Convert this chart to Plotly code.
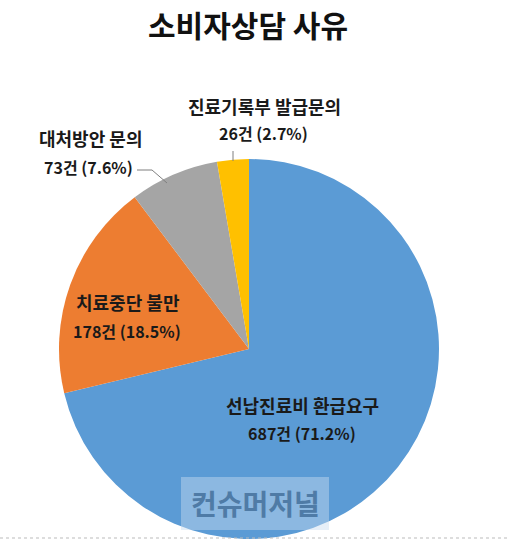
import plotly.graph_objects as go

categories = ["선납진료비 환급요구", "치료중단 불만", "대처방안 문의", "진료기록부 발급문의"]
counts = [687, 178, 73, 26]
percents = [71.2, 18.5, 7.6, 2.7]
colors = ["#5B9BD5", "#ED7D31", "#A5A5A5", "#FFC000"]
title_text = "소비자상담 사유"

W, H = 510, 540
FONT = "Noto Sans CJK KR, Malgun Gothic, sans-serif"

# pie placement in pixels
cx, cy, r = 249, 349, 190

def px(x):
    return x / W

def py(y):
    return 1 - y / H

fig = go.Figure(go.Pie(
    labels=categories,
    values=counts,
    marker=dict(colors=colors, line=dict(width=0)),
    sort=False,
    direction="clockwise",
    rotation=0,
    textinfo="none",
    hoverinfo="label+value+percent",
    showlegend=False,
    domain=dict(x=[px(cx - r), px(cx + r)], y=[py(cy + r), py(cy - r)]),
))

# label positions (pixel centres) for the two text lines of each category
label_pos = [
    ((302, 405), (302, 433)),
    ((128, 302), (127, 331)),
    ((90, 138), (88, 167)),
    ((264, 106), (263, 133)),
]

annotations = []
for cat, n, p, (l1, l2) in zip(categories, counts, percents, label_pos):
    annotations.append(dict(
        x=px(l1[0]), y=py(l1[1]), xref="paper", yref="paper",
        text=f"<b>{cat}</b>", showarrow=False, xanchor="center", yanchor="middle",
        font=dict(family=FONT, size=18, color="#1a1a1a")))
    annotations.append(dict(
        x=px(l2[0]), y=py(l2[1]), xref="paper", yref="paper",
        text=f"<b>{n}건 ({p}%)</b>", showarrow=False, xanchor="center", yanchor="middle",
        font=dict(family=FONT, size=16, color="#1a1a1a")))

annotations.append(dict(
    x=px(248), y=py(24), xref="paper", yref="paper",
    text=f"<b>{title_text}</b>", showarrow=False, xanchor="center", yanchor="middle",
    font=dict(family=FONT, size=30, color="#111111")))

# watermark
annotations.append(dict(
    x=px(255), y=py(503), xref="paper", yref="paper",
    text="<b>컨슈머저널</b>", showarrow=False, xanchor="center", yanchor="middle",
    font=dict(family=FONT, size=28, color="#4F7BA6")))

shapes = [
    # leader lines
    dict(type="line", xref="paper", yref="paper",
         x0=px(233), y0=py(151), x1=px(233), y1=py(cy - r + 2),
         line=dict(color="#7f7f7f", width=1)),
    dict(type="path", xref="paper", yref="paper",
         path=f"M {px(137)},{py(170)} L {px(152)},{py(170)} L {px(167)},{py(183)}",
         line=dict(color="#7f7f7f", width=1)),
    # watermark box
    dict(type="rect", xref="paper", yref="paper",
         x0=px(181), x1=px(329), y0=py(530), y1=py(477),
         fillcolor="rgba(200,220,240,0.45)", line=dict(width=0), layer="above"),
    # dotted bottom line
    dict(type="line", xref="paper", yref="paper",
         x0=0, x1=1, y0=py(538), y1=py(538),
         line=dict(color="#bbbbbb", width=1, dash="dot")),
]

fig.update_layout(
    width=W, height=H,
    margin=dict(l=0, r=0, t=0, b=0),
    paper_bgcolor="white",
    plot_bgcolor="white",
    annotations=annotations,
    shapes=shapes,
    showlegend=False,
)

fig.write_html("out.html", config={"displayModeBar": False},
               post_script="document.body.style.margin='0';")
